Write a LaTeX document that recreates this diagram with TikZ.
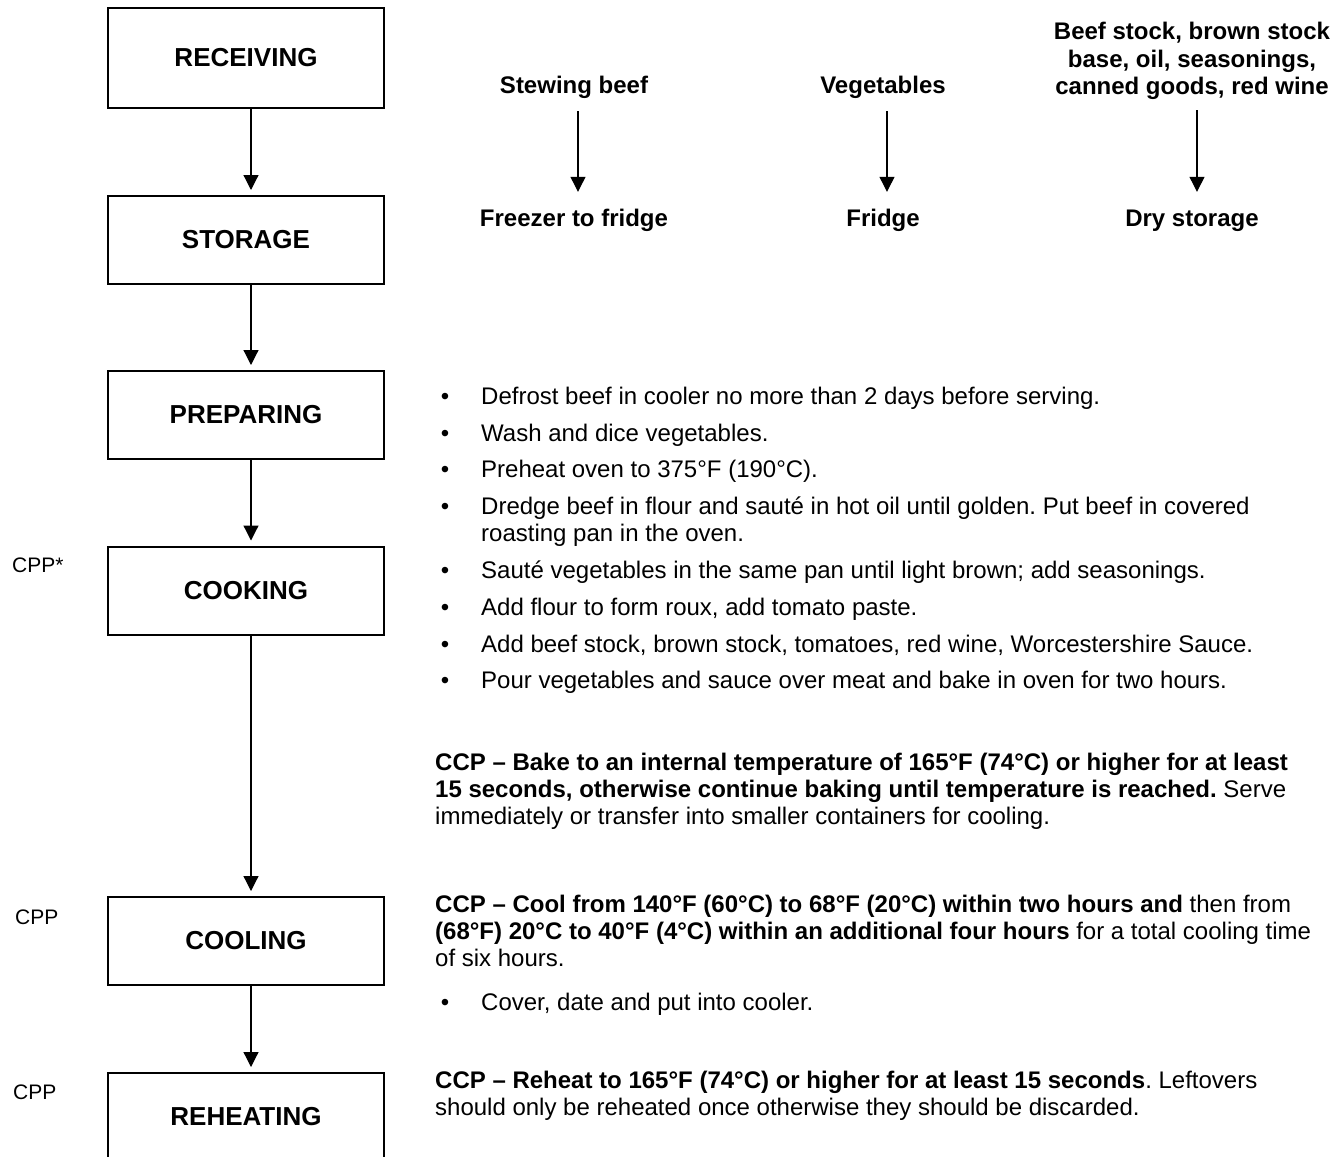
\documentclass[tikz,border=0pt]{standalone}
\usepackage{fontspec}
\setmainfont{Liberation Sans}
\frenchspacing
\usetikzlibrary{arrows.meta}
\begin{document}
\begin{tikzpicture}[x=1pt,y=-1pt,
 box/.style={draw, line width=2pt, minimum width=276pt, minimum height=88pt, inner sep=0pt, font=\fontsize{26}{30}\selectfont\bfseries},
 arr/.style={line width=1.2pt, -{Triangle[width=15pt,length=15pt]}},
 lab/.style={inner sep=0pt, anchor=base, text height=18pt, text depth=5pt, font=\fontsize{24}{27.6}\selectfont\bfseries},
 body/.style={inner sep=0pt, anchor=base west, font=\fontsize{24}{27.6}\selectfont},
 bul/.style={inner sep=0pt, anchor=base, font=\fontsize{24}{27.6}\selectfont},
 cpp/.style={inner sep=0pt, anchor=base west, font=\fontsize{21}{24}\selectfont}]
\useasboundingbox (0,0) rectangle (1342,1157);

% main column boxes
\node[box, minimum height=100pt] (rec) at (246,58) {RECEIVING};
\node[box] (sto) at (246,240) {STORAGE};
\node[box] (prep) at (246,415) {PREPARING};
\node[box] (cook) at (246,590.5) {COOKING};
\node[box] (cool) at (246,941) {COOLING};
\node[box] (reh) at (246,1117) {REHEATING};

\coordinate (ax) at (251,0);
\draw[arr, shorten >=5pt] (rec.south -| ax) -- (sto.north -| ax);
\draw[arr, shorten >=5pt] (sto.south -| ax) -- (prep.north -| ax);
\draw[arr, shorten >=5pt] (prep.south -| ax) -- (cook.north -| ax);
\draw[arr, shorten >=5pt] (cook.south -| ax) -- (cool.north -| ax);
\draw[arr, shorten >=5pt] (cool.south -| ax) -- (reh.north -| ax);

% CPP labels
\node[cpp] (cpp1) at (12,572.5) {CPP*};
\node[cpp] (cpp2) at (15,924.5) {CPP};
\node[cpp] (cpp3) at (13,1099.5) {CPP};

% ingredients
\node[lab] (sb) at (574,93) {Stewing beef};
\node[lab] (fz) at (574,226) {Freezer to fridge};
\node[lab] (vg) at (883,93) {Vegetables};
\node[lab] (fr) at (883,226) {Fridge};
\node[lab] (bs1) at (1192,39) {Beef stock, brown stock};
\node[lab] (bs2) at (1192,67) {base, oil, seasonings,};
\node[lab] (bs3) at (1192,94) {canned goods, red wine};
\node[lab] (dry) at (1192,226) {Dry storage};

\coordinate (x1) at (578,0);
\coordinate (x2) at (887,0);
\coordinate (x3) at (1197,0);
\draw[arr, shorten <=13pt, shorten >=16pt] (sb.south -| x1) -- (fz.north -| x1);
\draw[arr, shorten <=13pt, shorten >=16pt] (vg.south -| x2) -- (fr.north -| x2);
\draw[arr, shorten <=11pt, shorten >=16pt] (bs3.south -| x3) -- (dry.north -| x3);

% preparing bullets
\node[bul] (p1b) at (445,404) {•};
\node[body] (p1) at (481,404) {Defrost beef in cooler no more than 2 days before serving.};
\node[bul] (p2b) at (445,441) {•};
\node[body] (p2) at (481,441) {Wash and dice vegetables.};
\node[bul] (p3b) at (445,477.5) {•};
\node[body] (p3) at (481,477.5) {Preheat oven to 375°F (190°C).};
\node[bul] (p4b) at (445,514) {•};
\node[body] (p4) at (481,514) {Dredge beef in flour and sauté in hot oil until golden. Put beef in covered};
\node[body] (p4x) at (481,541.6) {roasting pan in the oven.};
\node[bul] (p5b) at (445,578) {•};
\node[body] (p5) at (481,578) {Sauté vegetables in the same pan until light brown; add seasonings.};
\node[bul] (p6b) at (445,615) {•};
\node[body] (p6) at (481,615) {Add flour to form roux, add tomato paste.};
\node[bul] (p7b) at (445,652) {•};
\node[body] (p7) at (481,652) {Add beef stock, brown stock, tomatoes, red wine, Worcestershire Sauce.};
\node[bul] (p8b) at (445,688) {•};
\node[body] (p8) at (481,688) {Pour vegetables and sauce over meat and bake in oven for two hours.};

% cooking CCP
\node[body] (k1) at (435,770) {\textbf{CCP – Bake to an internal temperature of 165°F (74°C) or higher for at least}};
\node[body] (k2) at (435,797) {\textbf{15 seconds, otherwise continue baking until temperature is reached.} Serve};
\node[body] (k3) at (435,824) {immediately or transfer into smaller containers for cooling.};

% cooling CCP
\node[body] (c1) at (435,912) {\textbf{CCP – Cool from 140°F (60°C) to 68°F (20°C) within two hours and} then from};
\node[body] (c2) at (435,939) {\textbf{(68°F) 20°C to 40°F (4°C) within an additional four hours} for a total cooling time};
\node[body] (c3) at (435,966) {of six hours.};
\node[bul] (c4b) at (445,1010) {•};
\node[body] (c4) at (481,1010) {Cover, date and put into cooler.};

% reheating CCP
\node[body] (r1) at (435,1088) {\textbf{CCP – Reheat to 165°F (74°C) or higher for at least 15 seconds}. Leftovers};
\node[body] (r2) at (435,1115) {should only be reheated once otherwise they should be discarded.};
\end{tikzpicture}
\end{document}
